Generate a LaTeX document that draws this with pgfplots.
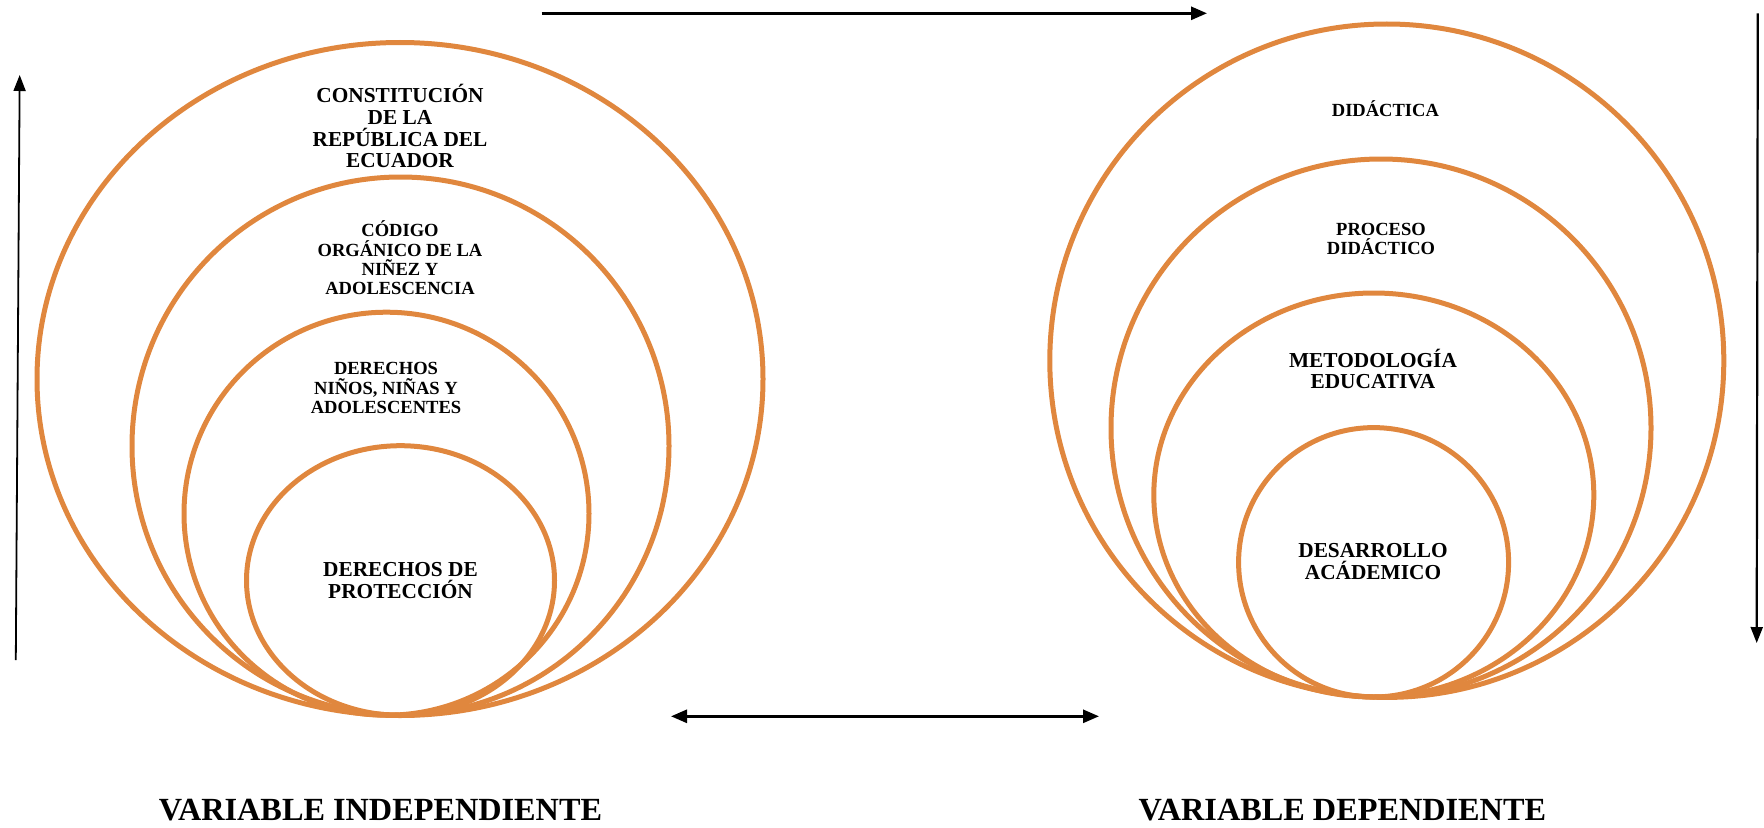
\documentclass[border=0pt]{standalone}
\usepackage{pgfplots}
\pgfplotsset{compat=1.18}
\usepackage{fontspec}
\setmainfont{Liberation Serif}
\usetikzlibrary{arrows.meta}
\definecolor{naranja}{RGB}{224,135,62}
\begin{document}
\begin{tikzpicture}
\begin{axis}[
  width=882bp, height=413.5bp, scale only axis,
  xmin=0, xmax=1764, ymin=0, ymax=827, y dir=reverse,
  hide axis, clip=false,
]
  \path (axis cs:0,0) (axis cs:1764,827);
  % elipses variable independiente
  \draw[naranja, line width=2.5bp] (axis cs:400,379) ellipse [x radius=363, y radius=336.5];
  \draw[naranja, line width=2.5bp] (axis cs:400.5,446) ellipse [x radius=268.5, y radius=269];
  \draw[naranja, line width=2.5bp] (axis cs:386.5,513.7) ellipse [x radius=202.5, y radius=201.5];
  \draw[naranja, line width=2.5bp] (axis cs:400.5,580.5) ellipse [x radius=154, y radius=134.8];
  % elipses variable dependiente
  \draw[naranja, line width=2.5bp] (axis cs:1386.8,360.7) ellipse [x radius=337, y radius=336.7];
  \draw[naranja, line width=2.5bp] (axis cs:1381,428) ellipse [x radius=270, y radius=269];
  \draw[naranja, line width=2.5bp] (axis cs:1373.8,495) ellipse [x radius=220, y radius=202];
  \draw[naranja, line width=2.5bp] (axis cs:1373.6,562.3) ellipse [x radius=135, y radius=134.7];

  % flechas
  \addplot[black, line width=0.9bp, -{Triangle[length=8bp,width=6bp]}] coordinates {(15.8,660) (19.7,75)};
  \addplot[black, line width=1.4bp, -{Triangle[length=8bp,width=6.5bp]}] coordinates {(541.7,13.3) (1207,13.3)};
  \addplot[black, line width=1.4bp, {Triangle[length=8bp,width=6.5bp]}-{Triangle[length=8bp,width=6.5bp]}] coordinates {(671,716.3) (1099,716.3)};
  \addplot[black, line width=1.1bp, -{Triangle[length=8bp,width=6bp]}] coordinates {(1757.8,13.3) (1756.7,643)};

  % textos
  \node[align=center, font=\bfseries\fontsize{10.7}{11}\selectfont] at (axis cs:400,126)
    {CONSTITUCIÓN\\DE LA\\REPÚBLICA DEL\\ECUADOR};
  \node[align=center, font=\bfseries\fontsize{9.3}{9.7}\selectfont] at (axis cs:400,258)
    {CÓDIGO\\ORGÁNICO DE LA\\NIÑEZ Y\\ADOLESCENCIA};
  \node[align=center, font=\bfseries\fontsize{9.3}{9.7}\selectfont] at (axis cs:386,388)
    {DERECHOS\\NIÑOS, NIÑAS Y\\ADOLESCENTES};
  \node[align=center, font=\bfseries\fontsize{10.7}{11}\selectfont] at (axis cs:400.5,580.5)
    {DERECHOS DE\\PROTECCIÓN};
  \node[align=center, font=\bfseries\fontsize{9.3}{9.7}\selectfont] at (axis cs:1385.4,109)
    {DIDÁCTICA};
  \node[align=center, font=\bfseries\fontsize{9.3}{9.7}\selectfont] at (axis cs:1381,239)
    {PROCESO\\DIDÁCTICO};
  \node[align=center, font=\bfseries\fontsize{10.7}{11}\selectfont] at (axis cs:1373,369)
    {METODOLOGÍA\\EDUCATIVA};
  \node[align=center, font=\bfseries\fontsize{10.7}{11}\selectfont] at (axis cs:1373,561.5)
    {DESARROLLO\\ACÁDEMICO};
  \node[font=\bfseries\fontsize{16.2}{18}\selectfont] at (axis cs:380.5,809.7) {VARIABLE INDEPENDIENTE};
  \node[font=\bfseries\fontsize{16.2}{18}\selectfont] at (axis cs:1342.4,809.7) {VARIABLE DEPENDIENTE};
\end{axis}
\end{tikzpicture}
\end{document}
